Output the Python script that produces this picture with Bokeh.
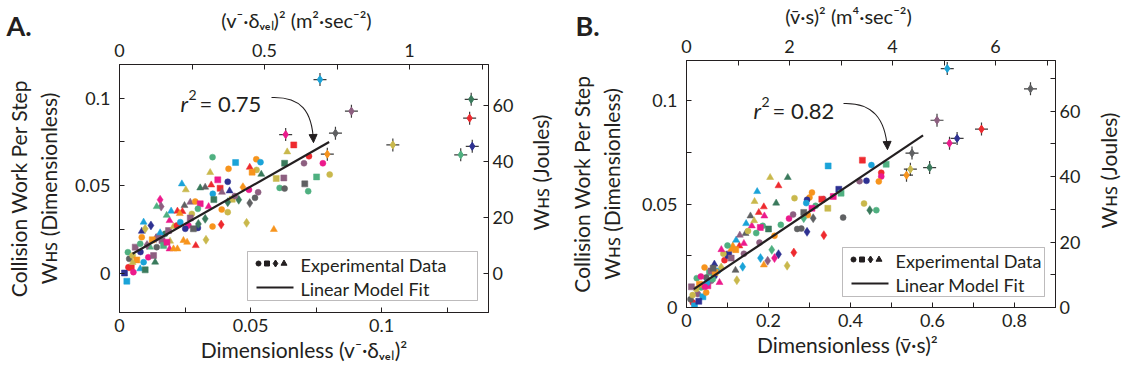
import math
from bokeh.plotting import figure
from bokeh.models import (Range1d, LinearAxis, FixedTicker, CustomJSTickFormatter,
                          Label, Arrow, NormalHead, ColumnDataSource, BoxAnnotation, GridBox)
from bokeh.embed import file_html
from bokeh.resources import INLINE

FONT = "Lato"
INK = "#231f20"
PALETTE = {"C": "#1aa3d8", "M": "#ec1a8c", "R": "#ee2a2f", "O": "#f7941d", "Y": "#c9b84c",
           "N": "#2e3192", "G": "#5f6062", "D": "#3a7a5c", "V": "#8d5f80", "E": "#4fb080"}
MARKERS = {"o": "circle", "s": "square", "d": "diamond", "^": "triangle"}
SIZES = {"o": 6, "s": 6, "d": 9, "^": 7}

# ---------------- Panel A data ----------------
a_x = [0.0665, 0.0640, 0.0723, 0.0704, 0.0776, 0.0630, 0.0443, 0.0522, 0.0538, 0.0497,
       0.0523, 0.0506, 0.0541, 0.0598, 0.0627, 0.0707, 0.0752, 0.0802, 0.0611, 0.0630,
       0.0720, 0.0471, 0.0494, 0.0529, 0.0517, 0.0497, 0.0455, 0.0430, 0.0485, 0.0589,
       0.0355, 0.0416, 0.0346, 0.0375, 0.0413, 0.0238, 0.0350, 0.0384, 0.0253, 0.0308,
       0.0327, 0.0356, 0.0391, 0.0155, 0.0159, 0.0142, 0.0413, 0.0390, 0.0413, 0.0248,
       0.0197, 0.0221, 0.0240, 0.0270, 0.0289, 0.0308, 0.0299, 0.0276, 0.0327, 0.0388,
       0.0355, 0.0330, 0.0299, 0.0244, 0.0258, 0.0291, 0.0191, 0.0206, 0.0221, 0.0193,
       0.0019, 0.0028, 0.0034, 0.0045, 0.0053, 0.0037, 0.0032, 0.0050, 0.0066, 0.0079,
       0.0098, 0.0092, 0.0110, 0.0130, 0.0136, 0.0060, 0.0079, 0.0085, 0.0085, 0.0098,
       0.0092, 0.0120, 0.0149, 0.0162, 0.0142, 0.0117, 0.0174, 0.0187, 0.0206, 0.0191,
       0.0219, 0.0232, 0.0263, 0.0270, 0.0251, 0.0282, 0.0301, 0.0168, 0.0181, 0.0140,
       0.0105, 0.0125, 0.0155, 0.0080, 0.0050, 0.0180, 0.0230, 0.0340, 0.0360, 0.0440,
       0.0420]
a_y = [0.0733, 0.0693, 0.0668, 0.0628, 0.0628, 0.0628, 0.0632, 0.0651, 0.0634, 0.0605,
       0.0590, 0.0577, 0.0565, 0.0541, 0.0544, 0.0510, 0.0550, 0.0563, 0.0487, 0.0483,
       0.0468, 0.0491, 0.0476, 0.0462, 0.0430, 0.0400, 0.0419, 0.0422, 0.0287, 0.0249,
       0.0663, 0.0596, 0.0575, 0.0533, 0.0522, 0.0510, 0.0504, 0.0485, 0.0476, 0.0487,
       0.0491, 0.0453, 0.0462, 0.0419, 0.0380, 0.0380, 0.0405, 0.0363, 0.0348, 0.0386,
       0.0354, 0.0354, 0.0352, 0.0405, 0.0409, 0.0396, 0.0367, 0.0338, 0.0310, 0.0277,
       0.0266, 0.0190, 0.0258, 0.0186, 0.0176, 0.0157, 0.0138, 0.0138, 0.0138, 0.0182,
       0.0000, -0.0047, 0.0033, 0.0030, 0.0005, 0.0081, 0.0119, 0.0100, 0.0075, 0.0024,
       0.0018, 0.0062, 0.0090, 0.0100, 0.0062, 0.0148, 0.0167, 0.0205, 0.0239, 0.0253,
       0.0291, 0.0272, 0.0205, 0.0186, 0.0148, 0.0148, 0.0224, 0.0243, 0.0266, 0.0300,
       0.0272, 0.0291, 0.0272, 0.0315, 0.0253, 0.0253, 0.0281, 0.0157, 0.0176, 0.0200,
       0.0160, 0.0190, 0.0230, 0.0120, 0.0060, 0.0330, 0.0340, 0.0380, 0.0420, 0.0440,
       0.0470]
a_color = list("RYRVMDCOCR" "YODYVGEYEG" "EOMVGGDYYO"
               "EOYMNCRRYD" "GCVMVEDOYG" "CRRVOMEYDR" "OYNOORMOOY"
               "NCRRMGEYOC" "DCMVDVEONY" "CNVVGEDVYM" "RCMVNGDEM"
               "VVOCNYEOMDVN")
a_marker = list("s^ooossoo^" "os^ssssooo" "odoooddsd^"
                "oo^so^^s^^" "^o^dd^doo^" "^^^^osoodd" "odo^^^^^^^"
                "ssosoooos^" "soos^soo^d" "^dsso^os^^" "ooososdss"
                "dds^o^^^^so^")
a_err_x = [0.0765, 0.0885, 0.0824, 0.0634, 0.1043, 0.0793, 0.1342, 0.1336, 0.1346, 0.1302]
a_err_y = [0.1107, 0.0926, 0.0800, 0.0792, 0.0733, 0.0680, 0.0994, 0.0886, 0.0725, 0.0676]
a_err_color = list("CVGMYODRNE")
a_fit_x = [0.005, 0.080]
a_fit_y = [0.011, 0.075]

# ---------------- Panel B data ----------------
b_x = [0.429, 0.451, 0.487, 0.3455, 0.475, 0.475, 0.422, 0.439, 0.469, 0.3715,
       0.377, 0.358, 0.334, 0.330, 0.306, 0.300, 0.294, 0.292, 0.315, 0.306,
       0.3447, 0.433, 0.447, 0.463, 0.382, 0.296, 0.309, 0.286, 0.286, 0.294,
       0.335, 0.280, 0.204, 0.247, 0.2244, 0.1724, 0.2634, 0.166, 0.2187, 0.1886,
       0.1764, 0.190, 0.156, 0.1455, 0.186, 0.1593, 0.144, 0.129, 0.113, 0.140,
       0.121, 0.180, 0.2146, 0.178, 0.1886, 0.2244, 0.208, 0.1805, 0.198, 0.2146,
       0.2455, 0.2618, 0.137, 0.1195, 0.1228, 0.025, 0.103, 0.109, 0.0154, 0.0195,
       0.0098, 0.0276, 0.0400, 0.0480, 0.0358, 0.0520, 0.0600, 0.0680, 0.0764, 0.0846,
       0.0560, 0.0680, 0.0927, 0.1008, 0.1090, 0.0805, 0.0480, 0.0236, 0.0317, 0.0640,
       0.0440, 0.0600, 0.0120, 0.0350, 0.0500, 0.0700, 0.0900, 0.1000, 0.1200, 0.1300,
       0.1500, 0.1650, 0.1700, 0.2000, 0.2300, 0.2500, 0.2600, 0.2700, 0.1400, 0.0300,
       0.0150, 0.0450, 0.0650, 0.0850]
b_y = [0.0713, 0.0689, 0.0693, 0.0685, 0.0652, 0.0634, 0.0611, 0.0613, 0.0610, 0.0572,
       0.0553, 0.0537, 0.0524, 0.0524, 0.0556, 0.0532, 0.0521, 0.0505, 0.0492, 0.0480,
       0.0480, 0.0503, 0.0471, 0.0471, 0.0435, 0.0447, 0.0432, 0.0432, 0.0460, 0.0366,
       0.0350, 0.0382, 0.0629, 0.0629, 0.0589, 0.0561, 0.0529, 0.0513, 0.0505, 0.0487,
       0.0460, 0.0443, 0.0443, 0.0406, 0.0395, 0.0395, 0.0358, 0.0298, 0.0298, 0.0310,
       0.0326, 0.0387, 0.0347, 0.0314, 0.0206, 0.0258, 0.0279, 0.0239, 0.0226, 0.0239,
       0.0202, 0.0266, 0.0197, 0.0180, 0.0132, 0.0142, 0.0258, 0.0282, 0.0024, 0.0008,
       0.0040, 0.0065, 0.0052, 0.0073, 0.0097, 0.0105, 0.0129, 0.0153, 0.0177, 0.0194,
       0.0169, 0.0210, 0.0229, 0.0250, 0.0239, 0.0121, 0.0145, 0.0089, 0.0113, 0.0137,
       0.0194, 0.0177, 0.0100, 0.0150, 0.0120, 0.0170, 0.0260, 0.0300, 0.0280, 0.0350,
       0.0370, 0.0420, 0.0360, 0.0380, 0.0400, 0.0430, 0.0450, 0.0380, 0.0260, 0.0030,
       0.0060, 0.0100, 0.0190, 0.0280]
b_color = list("RCECRMVNON" "EMVROONCEM" "YYDEGOGEGN" "RG"
               "YDRCYYDR" "RMGCEMGROM" "CMOVONECVM" "YRCGYENO"
               "RCGVCOEMVN" "CYENRNVMGY" "OEOV"
               "VMCOYEOVYY" "EDEMVGVNYM" "GM")
b_marker = list("sossooooos" "ssosooooos" "sodoooddsd" "do"
                "^^^^o^^^" "^^^^o^^^^^" "^soo^ddddd" "ddd^dos^"
                "osoosoosoo" "ods^oos^oo" "soos"
                "soosoos^o^" "osooooosoo" "s^")
b_err_x = [0.636, 0.611, 0.7195, 0.660, 0.6415, 0.550, 0.593, 0.546, 0.5366, 0.839]
b_err_y = [0.1156, 0.0906, 0.0863, 0.0818, 0.0795, 0.0747, 0.0677, 0.0669, 0.0640, 0.1058]
b_err_color = list("CVRNMGDYOG")
b_fit_x = [0.018, 0.577]
b_fit_y = [0.0089, 0.0833]

panel_letters = ["A.", "B."]

EM = "\u2003"
HS = "\u029c\ua731"  # small-capital H S
RIGHT_TITLE = "W" + HS + " (Joules)"

# ---------------- layout constants (canvas pixels) ----------------
CFG_A = dict(off=0, L=119, T=64, W=369, H=248, xr=(0.0, 0.1408), yr=(-0.0226, 0.1193),
             top=(0.0, 1.2724), right=(-14.1, 74.5),
             bt=[0, 0.05, 0.1], bm=[0.025, 0.075, 0.125],
             lt=[0, 0.05, 0.1], lm=[0.025, 0.075],
             tt=[0, 0.5, 1], tm=[0.25, 0.75, 1.25],
             rt=[0, 20, 40, 60], rm=[],
             top_title="(v\u207b\u00b7\u03b4\u1d65\u2091\u2097)\u00b2 (m\u00b2\u00b7sec\u207b\u00b2)" + EM,
             bottom_title="Dimensionless (v\u207b\u00b7\u03b4\u1d65\u2091\u2097)\u00b2",
             left_sd=11, left2_sd=2,
             r2="= 0.75", r2_x=180, r2_y=103,
             curve=((271, 97), (300, 96), (312, 110), (313, 142)),
             legend=(247, 251, 477, 300))
CFG_B = dict(off=563, L=686, T=60, W=369, H=247, xr=(0.0, 0.9), yr=(0.0, 0.1195),
             top=(0.0, 7.165), right=(0.0, 75.5),
             bt=[0, 0.2, 0.4, 0.6, 0.8], bm=[0.1, 0.3, 0.5, 0.7],
             lt=[0, 0.05, 0.1], lm=[0.025, 0.075],
             tt=[0, 2, 4, 6], tm=[1, 3, 5, 7],
             rt=[0, 20, 40, 60], rm=[10, 30, 50, 70],
             top_title="(v\u0304\u00b7s)\u00b2 (m\u2074\u00b7sec\u207b\u00b2)" + EM * 3,
             bottom_title="Dimensionless (v\u0304\u00b7s)\u00b2" + EM * 3,
             left_sd=15, left2_sd=2,
             r2="= 0.82", r2_x=753, r2_y=110,
             curve=((843, 103), (872, 102), (885, 118), (887, 149)),
             legend=(842, 247, 1044, 296))
LETTER_POS = [(6, 25), (575, 25)]
RIGHT_TITLE_POS = [(540, 172), (1108, 170)]


def no_frame_align(p):
    try:
        p.frame_align = False
    except (AttributeError, ValueError):
        pass


def to_data(c, X, Y):
    x0, x1 = c["xr"]
    y0, y1 = c["yr"]
    x = x0 + (X - c["L"]) / c["W"] * (x1 - x0)
    y = y0 + (c["T"] + c["H"] - Y) / c["H"] * (y1 - y0)
    return x, y


def text(p, c, X, Y, s, size, align="left", baseline="alphabetic", angle=0.0, style="normal"):
    x, y = to_data(c, X, Y)
    p.add_layout(Label(x=x, y=y, text=s, text_font=FONT, text_font_size=f"{size}px",
                       text_color=INK, text_align=align, text_baseline=baseline,
                       angle=angle, text_font_style=style))


def style_axis(ax, ticks, minor, standoff, label=None, label_sd=0, label_size=21):
    ax.ticker = FixedTicker(ticks=ticks, minor_ticks=minor)
    ax.formatter = CustomJSTickFormatter(code="return String(Number(tick.toPrecision(6)));")
    ax.major_tick_in = 5
    ax.major_tick_out = 0
    ax.minor_tick_in = 5
    ax.minor_tick_out = 0
    ax.axis_line_color = INK
    ax.major_tick_line_color = INK
    ax.minor_tick_line_color = INK
    ax.major_label_text_font = FONT
    ax.major_label_text_font_size = "18px"
    ax.major_label_text_color = INK
    ax.major_label_standoff = standoff
    if label is not None:
        ax.axis_label = label
        ax.axis_label_text_font = FONT
        ax.axis_label_text_font_size = f"{label_size}px"
        ax.axis_label_text_font_style = "normal"
        ax.axis_label_text_color = INK
        ax.axis_label_standoff = label_sd


def make_panel(c, xs, ys, cols, marks, ex, ey, ecols, fx, fy):
    left = c["L"] - c["off"]
    right = 563 - left - c["W"]
    bottom = 377 - c["T"] - c["H"]
    p = figure(width=563, height=377, output_backend="svg", toolbar_location=None,
               x_range=Range1d(*c["xr"]), y_range=Range1d(*c["yr"]),
               min_border_left=left, min_border_right=right,
               min_border_top=c["T"], min_border_bottom=bottom)
    no_frame_align(p)
    p.grid.visible = False
    p.outline_line_color = INK
    p.outline_line_width = 1
    p.background_fill_color = "white"
    p.border_fill_color = "white"

    p.extra_x_ranges = {"top": Range1d(*c["top"])}
    p.extra_y_ranges = {"right": Range1d(*c["right"])}
    top_ax = LinearAxis(x_range_name="top")
    right_ax = LinearAxis(y_range_name="right")
    p.add_layout(top_ax, "above")
    p.add_layout(right_ax, "right")
    style_axis(p.below[0], c["bt"], c["bm"], 6, c["bottom_title"], 2, 21)
    style_axis(p.left[0], c["lt"], c["lm"], 9, "W" + HS + " (Dimensionless)", c["left_sd"], 21)
    style_axis(top_ax, c["tt"], c["tm"], 8, c["top_title"], 9, 20)
    style_axis(right_ax, c["rt"], c["rm"], 4)
    outer = LinearAxis(ticker=FixedTicker(ticks=[], minor_ticks=[]), axis_line_color=None,
                       major_tick_in=0, major_tick_out=0, minor_tick_in=0, minor_tick_out=0,
                       major_label_standoff=0, axis_label="Collision Work Per Step",
                       axis_label_text_font=FONT, axis_label_text_font_size="21px",
                       axis_label_text_font_style="normal", axis_label_text_color=INK,
                       axis_label_standoff=c["left2_sd"])
    p.add_layout(outer, "left")

    # legend box (under glyphs)
    lx0, ly0, lx1, ly1 = c["legend"]
    bx0, by0 = to_data(c, lx0, ly0)
    bx1, by1 = to_data(c, lx1, ly1)
    p.add_layout(BoxAnnotation(left=bx0, right=bx1, top=by0, bottom=by1, fill_color="white",
                               fill_alpha=1, line_color=INK, line_width=1, level="underlay"))

    src = ColumnDataSource(dict(
        x=xs, y=ys,
        color=[PALETTE[k] for k in cols],
        marker=[MARKERS[k] for k in marks],
        size=[SIZES[k] for k in marks]))
    p.scatter("x", "y", source=src, marker="marker", size="size",
              fill_color="color", line_color="color", line_width=0.5)

    # points with error crosses
    p.scatter(ex, ey, marker="cross", size=13, line_color="#3c3c3c", line_width=1.2)
    p.scatter(ex, ey, marker="diamond", size=8,
              fill_color=[PALETTE[k] for k in ecols], line_color=[PALETTE[k] for k in ecols])

    # fit line
    p.line(fx, fy, line_color=INK, line_width=2.2)

    # annotation curve + arrow
    (sx, sy), (c1x, c1y), (c2x, c2y), (ex_, ey_) = c["curve"]
    P0 = to_data(c, sx, sy)
    C1 = to_data(c, c1x, c1y)
    C2 = to_data(c, c2x, c2y)
    P1 = to_data(c, ex_, ey_)
    p.bezier(x0=[P0[0]], y0=[P0[1]], x1=[P1[0]], y1=[P1[1]], cx0=[C1[0]], cy0=[C1[1]],
             cx1=[C2[0]], cy1=[C2[1]], line_color=INK, line_width=1.1)
    H0 = to_data(c, ex_ - 0.3, ey_ - 6)
    p.add_layout(Arrow(end=NormalHead(size=8, fill_color=INK, line_color=INK),
                       x_start=H0[0], y_start=H0[1], x_end=P1[0], y_end=P1[1], line_alpha=0))
    text(p, c, c["r2_x"], c["r2_y"], "r", 22, style="italic")
    text(p, c, c["r2_x"] + 8, c["r2_y"] - 9, "2", 14)
    text(p, c, c["r2_x"] + 19, c["r2_y"], c["r2"], 22)

    # legend content
    my = ly0 + 12
    for i, (mk, sz) in enumerate([("circle", 5), ("square", 5), ("diamond", 7), ("triangle", 6)]):
        mxp = lx0 + 11 + i * 8.5
        mx, myd = to_data(c, mxp, my)
        p.scatter([mx], [myd], marker=mk, size=sz, fill_color=INK, line_color=INK)
    lxa, lya = to_data(c, lx0 + 9, ly0 + 36)
    lxb, _ = to_data(c, lx0 + 46, ly0 + 36)
    p.line([lxa, lxb], [lya, lya], line_color=INK, line_width=2.2)
    text(p, c, lx0 + 53, ly0 + 13, "Experimental Data", 18, baseline="middle")
    text(p, c, lx0 + 53, ly0 + 37, "Linear Model Fit", 18, baseline="middle")
    return p


pA = make_panel(CFG_A, a_x, a_y, a_color, a_marker, a_err_x, a_err_y, a_err_color,
                a_fit_x, a_fit_y)
pB = make_panel(CFG_B, b_x, b_y, b_color, b_marker, b_err_x, b_err_y, b_err_color,
                b_fit_x, b_fit_y)

# transparent overlay over the whole picture, carrying texts that sit outside the frames
over = figure(width=1126, height=377, output_backend="svg", toolbar_location=None,
              x_range=Range1d(0, 1126), y_range=Range1d(377, 0),
              x_axis_type=None, y_axis_type=None,
              min_border_left=0, min_border_right=0, min_border_top=0, min_border_bottom=0)
no_frame_align(over)
over.grid.visible = False
over.outline_line_color = None
over.background_fill_color = None
over.border_fill_color = None
for (lx, ly), letter in zip(LETTER_POS, panel_letters):
    over.add_layout(Label(x=lx, y=ly, text=letter, text_font=FONT, text_font_size="27px",
                          text_font_style="bold", text_color=INK, text_baseline="alphabetic"))
for (rx, ry) in RIGHT_TITLE_POS:
    over.add_layout(Label(x=rx, y=ry, text=RIGHT_TITLE, text_font=FONT, text_font_size="21px",
                          text_color=INK, text_align="center", text_baseline="middle",
                          angle=math.pi / 2))

layout = GridBox(children=[(pA, 0, 0), (pB, 0, 1), (over, 0, 0, 1, 2)], spacing=0)
open("out.html", "w").write(file_html(layout, INLINE))
